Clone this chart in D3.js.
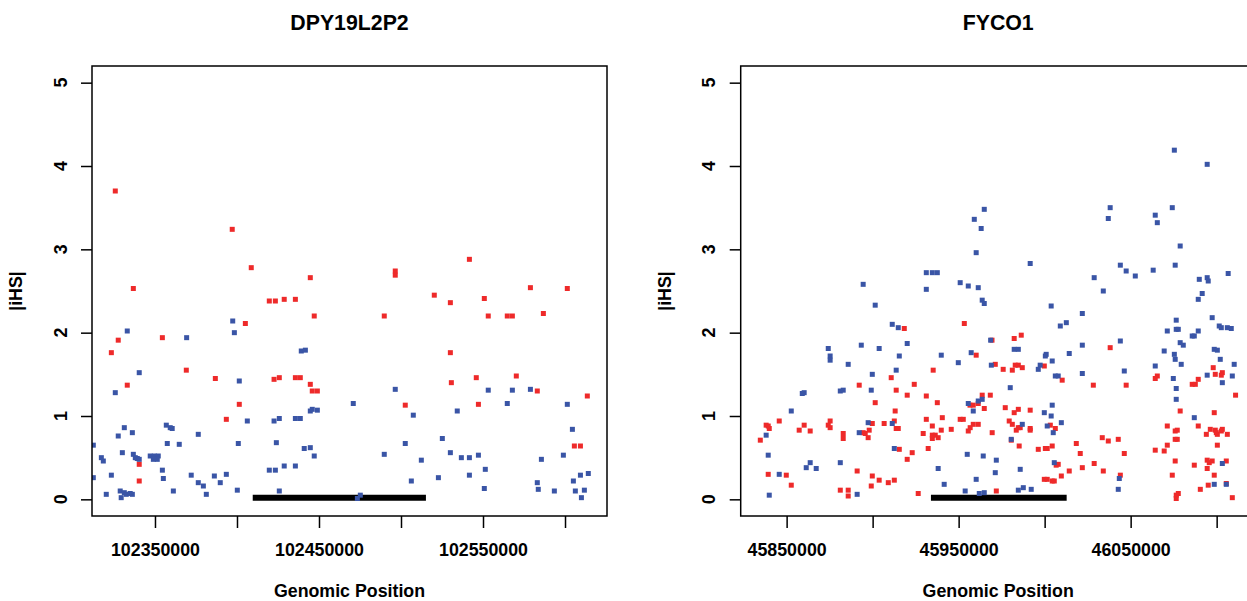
<!DOCTYPE html>
<html>
<head>
<meta charset="utf-8">
<script src="https://cdn.jsdelivr.net/npm/d3@7"></script>
<style>
  body { margin: 0; background: #fff; }
  svg text { font-family: "Liberation Sans", Arial, Helvetica, sans-serif; font-weight: bold; fill: #000; }
</style>
</head>
<body>
<svg id="chart" width="1247" height="601"></svg>
<script>
// positions are in kb, values are |iHS|
var dpyRed = [
  [102325.8,3.70],[102397.1,3.24],[102408.7,2.78],[102336.8,2.53],[102444.7,2.66],[102419.7,2.38],[102423.4,2.38],
  [102428.8,2.40],[102435.6,2.40],[102496.5,2.74],[102496.5,2.69],[102541.7,2.88],[102578.9,2.54],[102601.4,2.53],
  [102520.3,2.45],[102530.1,2.36],[102550.8,2.41],[102447.1,2.20],[102405.1,2.11],[102354.5,1.94],[102327.6,1.91],
  [102323.4,1.76],[102369.1,1.55],[102386.8,1.45],[102422.6,1.44],[102425.8,1.46],[102435.6,1.46],[102438.6,1.46],
  [102333.1,1.37],[102444.7,1.38],[102445.9,1.30],[102449.0,1.30],[102401.4,1.14],[102393.5,0.96],[102340.4,0.42],
  [102340.4,0.22],[102489.8,2.20],[102553.2,2.20],[102564.8,2.20],[102567.9,2.20],[102586.8,2.23],[102530.1,1.76],
  [102530.7,1.40],[102545.9,1.46],[102570.3,1.48],[102583.1,1.30],[102613.6,1.24],[102502.6,1.13],[102547.2,1.14],
  [102605.7,0.64],[102609.4,0.64]
];
var dpyBlue = [
  [102397.4,2.14],[102333.1,2.02],[102398.4,2.00],[102369.3,1.94],[102439.2,1.78],[102441.7,1.79],[102340.4,1.52],
  [102401.4,1.42],[102325.8,1.28],[102445.9,1.08],[102449.0,1.07],[102444.7,1.06],[102425.8,0.97],[102422.6,0.94],
  [102435.6,0.97],[102438.6,0.97],[102406.3,0.94],[102356.9,0.89],[102359.3,0.86],[102360.5,0.85],[102331.3,0.86],
  [102336.2,0.80],[102376.4,0.78],[102327.6,0.76],[102424.0,0.68],[102312.4,0.65],[102357.5,0.67],[102364.8,0.66],
  [102400.8,0.67],[102441.0,0.61],[102444.7,0.62],[102330.1,0.56],[102336.8,0.54],[102338.0,0.50],[102339.2,0.49],
  [102340.4,0.48],[102317.3,0.50],[102318.5,0.46],[102347.1,0.52],[102349.6,0.52],[102352.0,0.52],[102349.0,0.48],
  [102351.4,0.48],[102447.1,0.52],[102354.5,0.35],[102419.7,0.35],[102423.4,0.35],[102428.8,0.40],[102435.6,0.40],
  [102393.5,0.30],[102323.4,0.29],[102372.1,0.29],[102386.2,0.28],[102355.1,0.25],[102312.4,0.26],[102376.4,0.20],
  [102389.8,0.20],[102379.5,0.16],[102361.2,0.10],[102400.2,0.11],[102425.8,0.10],[102328.8,0.10],[102331.3,0.08],
  [102332.5,0.06],[102334.9,0.07],[102336.2,0.06],[102320.3,0.06],[102381.3,0.06],[102329.4,0.02],[102496.5,1.32],
  [102553.2,1.31],[102567.9,1.31],[102578.9,1.32],[102470.9,1.15],[102564.8,1.15],[102601.4,1.14],[102507.5,1.01],
  [102534.3,1.06],[102604.5,0.84],[102525.2,0.73],[102502.6,0.67],[102489.8,0.54],[102530.1,0.56],[102536.8,0.50],
  [102541.7,0.50],[102547.2,0.53],[102512.4,0.47],[102585.6,0.48],[102599.0,0.53],[102551.4,0.36],[102541.7,0.29],
  [102522.8,0.26],[102506.3,0.22],[102609.4,0.29],[102614.2,0.31],[102605.1,0.22],[102583.1,0.20],[102550.8,0.13],
  [102583.7,0.12],[102593.5,0.10],[102606.3,0.10],[102611.8,0.11],[102610.0,0.02],[102475.2,0.05],[102473.4,0.01]
];
var fycoRed = [
  [45918.4,2.05],[45953.3,2.11],[45935.2,1.55],[45910.8,1.46],[45924.2,1.38],[45892.2,1.37],[45913.7,1.31],
  [45920.1,1.25],[45931.2,1.24],[45901.5,1.16],[45937.6,1.16],[45956.6,1.13],[45913.1,1.06],[45940.5,0.98],
  [45931.2,0.96],[45950.9,0.96],[45952.7,0.96],[45845.7,0.94],[45875.3,0.94],[45912.6,0.94],[45899.8,0.91],
  [45906.7,0.91],[45934.7,0.88],[45838.1,0.89],[45839.3,0.88],[45839.9,0.85],[45860.2,0.89],[45874.2,0.89],
  [45875.3,0.86],[45913.7,0.85],[45914.9,0.85],[45857.3,0.83],[45863.7,0.82],[45898.0,0.83],[45939.9,0.83],
  [45945.7,0.84],[45955.6,0.82],[45894.5,0.80],[45895.7,0.79],[45882.9,0.79],[45882.9,0.73],[45929.4,0.79],
  [45897.4,0.74],[45934.7,0.77],[45936.4,0.77],[45938.1,0.74],[45934.7,0.73],[45834.7,0.71],[45915.5,0.60],
  [45932.3,0.61],[45923.0,0.56],[45920.1,0.48],[45891.0,0.34],[45839.3,0.30],[45849.8,0.29],[45899.8,0.28],
  [45903.8,0.23],[45909.1,0.20],[45912.6,0.23],[45852.7,0.17],[45899.2,0.16],[45881.2,0.11],[45885.8,0.11],
  [45885.8,0.04],[45926.5,0.07],[45982.3,1.93],[45986.4,1.97],[45969.4,1.91],[46038.1,1.82],[45960.2,1.73],
  [45971.3,1.62],[45975.9,1.56],[45981.2,1.55],[45982.9,1.61],[45984.7,1.61],[45987.0,1.58],[45999.8,1.60],
  [46098.0,1.58],[46099.2,1.50],[46103.3,1.52],[46102.7,1.49],[46010.2,1.43],[46064.3,1.45],[46065.5,1.48],
  [46085.8,1.38],[46087.6,1.38],[46089.3,1.44],[46028.3,1.37],[46047.4,1.37],[45963.7,1.25],[45968.4,1.25],
  [45958.5,1.13],[45961.4,1.15],[46111.0,1.25],[45964.9,1.09],[45977.1,1.10],[45982.3,1.04],[45984.7,1.08],
  [45991.6,1.07],[46078.8,1.06],[46098.6,1.04],[45979.4,0.94],[45981.2,0.90],[45958.5,0.90],[45961.4,0.90],
  [45956.7,0.86],[46003.3,0.89],[46006.2,0.85],[45984.7,0.86],[45983.5,0.83],[45985.8,0.86],[45991.6,0.85],
  [45991.6,0.83],[45969.5,0.80],[46071.3,0.88],[46075.9,0.82],[46077.1,0.83],[46075.9,0.72],[46077.1,0.72],
  [46089.3,0.88],[46096.3,0.84],[46099.2,0.83],[46100.4,0.78],[46102.7,0.82],[46103.3,0.84],[46099.8,0.80],
  [46094.0,0.78],[46106.2,0.78],[46033.5,0.74],[46037.0,0.70],[46042.8,0.72],[45980.6,0.71],[45985.2,0.64],
  [45996.3,0.60],[46000.4,0.61],[46001.5,0.61],[46004.4,0.64],[46018.4,0.67],[46071.3,0.65],[46100.4,0.65],
  [46064.3,0.59],[46069.5,0.58],[46020.7,0.55],[46046.3,0.55],[46028.8,0.43],[46021.9,0.38],[46034.1,0.34],
  [46007.9,0.42],[46006.7,0.41],[46014.3,0.34],[46009.7,0.28],[45999.8,0.24],[46001.5,0.24],[46004.4,0.22],
  [46005.6,0.22],[46044.0,0.29],[46075.9,0.46],[46087.0,0.41],[46094.5,0.47],[46095.7,0.44],[46094.5,0.37],
  [46097.4,0.46],[46105.6,0.46],[46074.2,0.29],[46098.6,0.29],[46095.1,0.17],[46090.5,0.12],[46105.6,0.19],
  [46077.7,0.07],[46076.5,0.05],[46076.5,0.01],[46109.1,0.02],[45971.9,0.10]
];
var fycoBlue = [
  [45894.5,2.58],[45901.5,2.33],[45931.2,2.72],[45934.7,2.72],[45937.6,2.72],[45931.2,2.52],[45950.9,2.60],
  [45955.6,2.56],[46075.4,4.19],[46094.5,4.02],[45964.9,3.48],[45959.1,3.36],[45963.1,3.25],[46038.1,3.50],
  [46037.0,3.37],[46074.2,3.50],[46064.3,3.41],[46065.5,3.32],[45960.2,2.96],[45991.6,2.83],[46078.8,3.04],
  [46044.0,2.81],[46047.4,2.74],[46052.7,2.68],[46063.1,2.75],[46075.9,2.81],[46028.8,2.66],[46034.1,2.50],
  [46106.7,2.71],[46089.9,2.64],[46094.5,2.66],[46095.1,2.62],[46091.6,2.47],[46089.3,2.40],[45961.4,2.54],
  [45963.7,2.39],[45964.9,2.35],[46003.8,2.32],[45911.4,2.10],[45914.9,2.06],[45920.1,1.87],[45874.2,1.81],
  [45875.3,1.72],[45875.3,1.67],[45893.4,1.85],[45903.8,1.81],[45915.5,1.72],[45885.8,1.62],[45939.9,1.73],
  [45949.8,1.64],[45957.3,1.76],[45913.7,1.55],[45899.8,1.50],[45881.2,1.30],[45882.9,1.31],[45899.2,1.31],
  [45859.1,1.27],[45860.2,1.28],[45955.6,1.15],[45852.7,1.06],[45911.4,0.91],[45897.4,0.92],[45892.2,0.80],
  [45838.1,0.77],[45912.6,0.61],[45839.3,0.53],[45955.0,0.54],[45863.7,0.44],[45881.2,0.44],[45861.4,0.38],
  [45867.2,0.37],[45938.1,0.37],[45845.7,0.30],[45941.6,0.18],[45891.0,0.06],[45839.9,0.05],[45953.8,0.10],
  [46021.9,2.23],[46097.4,2.18],[46009.1,2.08],[46012.6,2.12],[46076.5,2.15],[46071.3,2.02],[46076.5,2.04],
  [46077.7,2.04],[46101.5,2.08],[46102.7,2.06],[46106.2,2.06],[46108.5,2.05],[46085.8,1.96],[46087.0,1.96],
  [46089.3,2.02],[45968.6,1.91],[46021.9,1.85],[46044.0,1.90],[46078.8,1.88],[46080.6,1.85],[46069.5,1.78],
  [46075.4,1.74],[46075.9,1.68],[46098.6,1.80],[46100.4,1.79],[45982.3,1.80],[45984.7,1.80],[46014.3,1.75],
  [46000.9,1.74],[46000.4,1.72],[46004.4,1.66],[46102.1,1.68],[46110.2,1.62],[46079.4,1.62],[45969.0,1.61],
  [45997.4,1.61],[45996.3,1.56],[46064.3,1.60],[46046.3,1.54],[46021.9,1.51],[46094.5,1.49],[46109.1,1.48],
  [46006.2,1.48],[46007.9,1.48],[46074.8,1.45],[46103.3,1.40],[45980.0,1.34],[46076.5,1.33],[45963.7,1.20],
  [45961.4,1.18],[46076.5,1.20],[45958.5,1.06],[45999.8,1.04],[46004.4,1.13],[46003.8,1.00],[46087.0,0.98],
  [46009.7,0.92],[45987.0,0.90],[46001.5,0.88],[46005.0,0.80],[45980.6,0.72],[45964.3,0.52],[45971.9,0.47],
  [46005.6,0.44],[45971.3,0.32],[45985.8,0.36],[45960.2,0.24],[46043.4,0.25],[46042.8,0.12],[46103.3,0.43],
  [46098.6,0.18],[46105.6,0.18],[45962.0,0.07],[45964.9,0.08],[45984.7,0.11],[45987.6,0.14],[45992.2,0.12]
];

// gene extents (kb)
var dpyGene = [102409.6, 102515.2];
var fycoGene = [45933.9, 46012.8];

var dpyTicks = [102350, 102400, 102450, 102500, 102550, 102600];
var dpyLabelled = [102350, 102450, 102550];
var fycoTicks = [45850, 45900, 45950, 46000, 46050, 46100];
var fycoLabelled = [45850, 45950, 46050];
var yTicks = [0, 1, 2, 3, 4, 5];

var svg = d3.select('#chart');
var redCol = '#ee2a2a';
var blueCol = '#3a55a6';

var panels = [
  {id: 'p1', title: 'DPY19L2P2', left: 92, xDomain: [102311.6, 102625.6],
   ticks: dpyTicks, labelled: dpyLabelled, red: dpyRed, blue: dpyBlue, gene: dpyGene},
  {id: 'p2', title: 'FYCO1', left: 740.7, xDomain: [45823.3, 46122.7],
   ticks: fycoTicks, labelled: fycoLabelled, red: fycoRed, blue: fycoBlue, gene: fycoGene}
];

var plotTop = 66, plotW = 515, plotH = 450;

panels.forEach(function(p) {
  var x = d3.scaleLinear().domain(p.xDomain).range([p.left, p.left + plotW]);
  var y = d3.scaleLinear().domain([-0.2, 5.2]).range([plotTop + plotH, plotTop]);

  svg.append('clipPath').attr('id', 'clip-' + p.id)
    .append('rect')
    .attr('x', p.left).attr('y', plotTop)
    .attr('width', plotW).attr('height', plotH);

  var g = svg.append('g').attr('clip-path', 'url(#clip-' + p.id + ')');

  // gene bar
  g.append('line')
    .attr('x1', x(p.gene[0])).attr('x2', x(p.gene[1]))
    .attr('y1', y(0.02)).attr('y2', y(0.02))
    .attr('stroke', '#000').attr('stroke-width', 6);

  var sz = 5;
  g.selectAll('rect.red').data(p.red).enter()
    .append('rect').attr('class', 'red')
    .attr('x', function(d) { return x(d[0]) - sz / 2; })
    .attr('y', function(d) { return y(d[1]) - sz / 2; })
    .attr('width', sz).attr('height', sz)
    .attr('fill', redCol);
  g.selectAll('rect.blue').data(p.blue).enter()
    .append('rect').attr('class', 'blue')
    .attr('x', function(d) { return x(d[0]) - sz / 2; })
    .attr('y', function(d) { return y(d[1]) - sz / 2; })
    .attr('width', sz).attr('height', sz)
    .attr('fill', blueCol);

  // box
  svg.append('rect')
    .attr('x', p.left).attr('y', plotTop)
    .attr('width', plotW).attr('height', plotH)
    .attr('fill', 'none').attr('stroke', '#000').attr('stroke-width', 1.5);

  // x axis
  var axX = svg.append('g')
    .attr('transform', 'translate(0,' + (plotTop + plotH) + ')')
    .call(d3.axisBottom(x).tickValues(p.ticks).tickSize(12).tickPadding(15)
      .tickFormat(function(d) { return p.labelled.indexOf(d) >= 0 ? String(d * 1000) : ''; }));
  axX.select('.domain').remove();
  axX.selectAll('line').attr('stroke', '#000').attr('stroke-width', 1.5);
  axX.selectAll('text').attr('font-size', 17.8).attr('font-family', null);

  // y axis
  var axY = svg.append('g')
    .attr('transform', 'translate(' + p.left + ',0)')
    .call(d3.axisLeft(y).tickValues(yTicks).tickSize(11).tickFormat(''));
  axY.select('.domain').remove();
  axY.selectAll('line').attr('stroke', '#000').attr('stroke-width', 1.5);

  svg.selectAll('text.yt-' + p.id).data(yTicks).enter()
    .append('text').attr('class', 'yt-' + p.id)
    .attr('transform', function(d) { return 'translate(' + (p.left - 25.3) + ',' + y(d) + ') rotate(-90)'; })
    .attr('text-anchor', 'middle')
    .attr('font-size', 17.8)
    .text(function(d) { return d; });

  // labels
  svg.append('text')
    .attr('x', p.left + plotW / 2).attr('y', 30)
    .attr('text-anchor', 'middle').attr('font-size', 21.3)
    .text(p.title);
  svg.append('text')
    .attr('x', p.left + plotW / 2).attr('y', 597)
    .attr('text-anchor', 'middle').attr('font-size', 17.8)
    .text('Genomic Position');
  svg.append('text')
    .attr('transform', 'translate(' + (p.left - 70) + ',' + (plotTop + plotH / 2) + ') rotate(-90)')
    .attr('text-anchor', 'middle').attr('font-size', 17.8)
    .text('|iHS|');
});
</script>
</body>
</html>
